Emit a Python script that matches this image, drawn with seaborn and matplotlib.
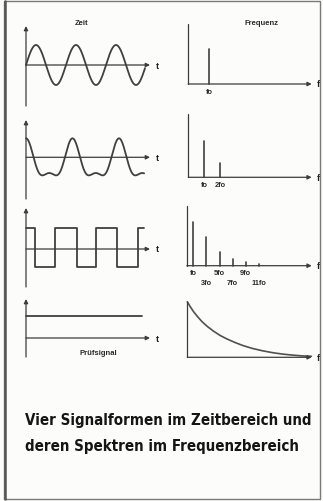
import numpy as np
import pandas as pd
import matplotlib
matplotlib.use("Agg")
import matplotlib.pyplot as plt
import seaborn as sns
from matplotlib.patches import Rectangle
from matplotlib.lines import Line2D

# Spectra (relative line heights)
sine_harmonics = [1]
sine_spectrum = [1.0]
mixed_harmonics = [1, 2]
mixed_spectrum = [1.0, 0.38]
square_harmonics = [1, 3, 5, 7, 9, 11]
square_spectrum = [1.0, 0.66, 0.31, 0.15, 0.078, 0.032]

sine_labels = ["fo"]
mixed_labels = ["fo", "2fo"]
square_labels = ["fo", "3fo", "5fo", "7fo", "9fo", "11fo"]

# Time signals (t in periods of fo)
sine_amp = [1.0]
sine_t_end = 2.975
mixed_amp = [1.0, 0.42]
mixed_offset = -0.325
mixed_t_end = 2.54
square_t = [0.0, 0.22, 0.70, 1.23, 1.69, 2.19, 2.70, 2.85]
square_level = [1.0, -0.88, 1.0, -0.88, 1.0, -0.88, 1.0, 1.0]
test_t = [0.0, 2.9]
test_level = [1.0, 1.0]

# Spectrum of the test signal (continuous)
decay_f = [0.0, 0.3, 0.6, 1.0, 1.5, 2.0, 2.6, 3.3, 4.0, 4.8, 5.6, 6.5, 7.5, 8.5,
           9.5, 10.5, 11.5, 12.4]
decay_amp = [1.0, 0.909, 0.827, 0.736, 0.636, 0.555, 0.473, 0.391, 0.327, 0.264,
             0.209, 0.16, 0.118, 0.084, 0.058, 0.04, 0.025, 0.018]

W, H = 323, 502
INK = "#3c3c3c"

sns.set_theme(style="white")
plt.rcParams["font.family"] = ["Liberation Sans", "DejaVu Sans"]

fig = plt.figure(figsize=(W / 100, H / 100), dpi=100)
fig.patch.set_facecolor("#fcfcfb")


def panel(left, top, right, bottom):
    ax = fig.add_axes([left / W, 1 - bottom / H, (right - left) / W, (bottom - top) / H])
    ax.set_facecolor("none")
    return ax


def arrow(ax, start, tip):
    ax.annotate("", xy=tip, xytext=start,
                arrowprops=dict(arrowstyle="-|>", lw=0.9, color=INK,
                                mutation_scale=6, shrinkA=0, shrinkB=0))


def time_panel(ax, xlim, ylim, df, **kw):
    sns.lineplot(data=df, x="t", y="y", estimator=None, sort=False,
                 color="#404040", lw=1.3, ax=ax, clip_on=False, **kw)
    arrow(ax, (0, ylim[0]), (0, ylim[1]))
    arrow(ax, (0, 0), (xlim[1], 0))
    ax.annotate("t", xy=(xlim[1], 0), xytext=(4, 0), textcoords="offset points",
                va="center", ha="left", fontsize=6.5, fontweight="bold", color="#222")
    ax.set_xlim(*xlim)
    ax.set_ylim(*ylim)
    ax.set_axis_off()


def spectrum_panel(ax, xlim, ylim, harmonics, heights, labels=None, rows=None):
    if harmonics is not None:
        rows_df = []
        for n, h in zip(harmonics, heights):
            rows_df.append({"f": n, "a": 0.0, "n": n})
            rows_df.append({"f": n, "a": h, "n": n})
        spec = pd.DataFrame(rows_df)
        sns.lineplot(data=spec, x="f", y="a", units="n", estimator=None, sort=False,
                     color="#404040", lw=1.2, ax=ax, clip_on=False)
    ax.plot([0, 0], [0, ylim[1]], color=INK, lw=0.9, clip_on=False)
    arrow(ax, (0, 0), (xlim[1], 0))
    ax.annotate("f", xy=(xlim[1], 0), xytext=(4, 0), textcoords="offset points",
                va="center", ha="left", fontsize=6.5, fontweight="bold", color="#222")
    if labels:
        for i, (n, lab) in enumerate(zip(harmonics, labels)):
            dy = -5.2 if (rows is None or i % 2 == 0) else -12.0
            ax.annotate(lab, xy=(n, 0), xytext=(0, dy), textcoords="offset points",
                        ha="center", va="center", fontsize=5.3, fontweight="bold",
                        color="#2a2a2a")
    ax.set_xlim(*xlim)
    ax.set_ylim(*ylim)
    ax.set_axis_off()


# ---- time domain ----
t1 = np.linspace(0, sine_t_end, 400)
y1 = sum(a * np.sin(2 * np.pi * (k + 1) * t1) for k, a in enumerate(sine_amp))
ax = panel(26, 27, 150, 107)
time_panel(ax, (0, 124 / 40), (-41 / 20, 39 / 20), pd.DataFrame({"t": t1, "y": y1}))

t2 = np.linspace(0, mixed_t_end, 400)
y2 = sum(a * np.cos(2 * np.pi * (k + 1) * t2) for k, a in enumerate(mixed_amp)) + mixed_offset
ax = panel(26, 121, 150, 200)
time_panel(ax, (0, 124 / 46.5), (-41.7 / 17.35, 37.3 / 17.35), pd.DataFrame({"t": t2, "y": y2}))

ax = panel(26, 209, 150, 288)
time_panel(ax, (0, 124 / 41.5), (-38 / 20.7, 41 / 20.7),
           pd.DataFrame({"t": square_t, "y": square_level}), drawstyle="steps-post")

ax = panel(26, 300, 150, 358)
time_panel(ax, (0, 124 / 40), (-19 / 22.3, 39 / 22.3), pd.DataFrame({"t": test_t, "y": test_level}))

# ---- frequency domain ----
ax = panel(188.3, 25, 311.7, 85)
spectrum_panel(ax, (0, 123.4 / 21), (0, 60 / 35), sine_harmonics, sine_spectrum, sine_labels)

ax = panel(188.3, 115, 311.7, 178.3)
spectrum_panel(ax, (0, 123.4 / 16), (0, 63.3 / 36.6), mixed_harmonics, mixed_spectrum, mixed_labels)

ax = panel(186.8, 207, 311.7, 266.7)
spectrum_panel(ax, (0, 124.9 / 6.55), (0, 59.7 / 43.7), square_harmonics, square_spectrum,
               square_labels, rows=2)

ax = panel(187.3, 302.7, 311.7, 358.3)
sns.lineplot(x=decay_f, y=decay_amp, color="#505050", lw=1.2, ax=ax, clip_on=False,
             solid_joinstyle="round")
spectrum_panel(ax, (0, 124.4 / 10), (0, 1.0), None, None)

# ---- titles and caption ----
txt = dict(fontsize=5.5, fontweight="bold", color="#2a2a2a", ha="center", va="center")
fig.text(81.7 / W, 1 - 23.3 / H, "Zeit", **txt)
fig.text(261.7 / W, 1 - 23.3 / H, "Frequenz", **txt)
fig.text(98.3 / W, 1 - 353.3 / H, "Prüfsignal", **txt)

cap = dict(fontsize=13, fontweight="bold", color="#151515", ha="left", va="center",
           family=["DejaVu Sans"], fontstretch="condensed")
c1 = fig.text(25 / W, 1 - 420 / H, "Vier Signalformen im Zeitbereich und", **cap)
c2 = fig.text(25 / W, 1 - 447 / H, "deren Spektren im Frequenzbereich", **cap)

# shrink the caption so the first line spans the same width as in the scan
fig.canvas.draw()
scale = 287 / c1.get_window_extent().width
for c in (c1, c2):
    c.set_fontsize(13 * min(scale, 1.0))

# ---- frame ----
fig.patches.append(Rectangle((4 / W, 1 - 500 / H), 316 / W, 498 / H, transform=fig.transFigure,
                             fill=False, ec="#7a7a7a", lw=1.0))
fig.add_artist(Line2D([4.5 / W, 4.5 / W], [1 - 500 / H, 1 - 2 / H], color="#555555", lw=1.8))

fig.savefig("out.png", dpi=100, facecolor=fig.get_facecolor())
